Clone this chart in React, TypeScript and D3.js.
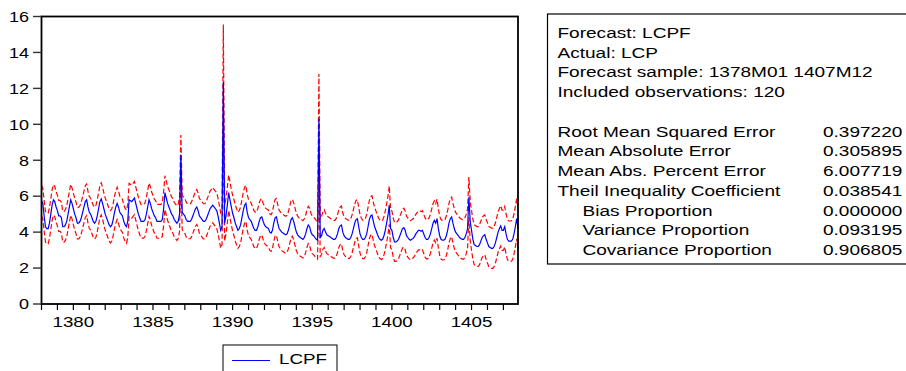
import React from "react";
import { scaleLinear, line } from "d3";

// LCPF forecast, monthly 1378M01..1407M12 (one row per year)
const lcpf = [
  5.75, 5.6, 4.9, 4.3, 4.2, 4.2, 4.5, 5.0, 5.5, 5.8, 5.7, 5.4,
  5.2, 4.9, 4.9, 4.8, 4.3, 4.3, 4.4, 4.6, 5.0, 5.4, 5.8, 5.6,
  5.3, 5.0, 4.8, 4.5, 4.5, 4.6, 4.8, 5.1, 5.4, 5.7, 5.8, 5.4,
  5.1, 5.0, 4.8, 4.6, 4.5, 4.6, 4.9, 5.3, 5.7, 5.85, 5.6, 5.3,
  5.0, 4.8, 4.6, 4.4, 4.3, 4.4, 4.7, 5.1, 5.4, 5.6, 5.4, 5.1,
  5.0, 4.9, 4.6, 4.4, 4.3, 4.6, 5.8, 5.75, 5.7, 5.8, 5.9, 5.6,
  5.3, 5.0, 4.8, 4.6, 4.6, 4.6, 4.7, 5.0, 5.4, 5.8, 5.6, 5.3,
  5.1, 4.9, 4.8, 4.6, 4.6, 4.6, 4.6, 4.7, 5.3, 6.2, 5.9, 5.6,
  5.4, 5.2, 5.0, 4.9, 4.7, 4.6, 4.5, 4.6, 5.0, 8.3, 5.1, 5.0,
  4.9, 4.7, 4.6, 4.6, 4.6, 4.7, 4.9, 5.1, 5.3, 5.4, 5.2, 4.9,
  4.8, 4.7, 4.6, 4.6, 4.7, 4.9, 5.1, 5.3, 5.4, 5.5, 5.4, 5.3,
  5.2, 4.9, 4.5, 4.1, 4.3, 12.35, 4.5, 4.9, 5.5, 6.2, 5.8, 5.4,
  5.05, 4.8, 4.5, 4.3, 4.1, 4.2, 4.4, 4.8, 5.2, 5.5, 5.6, 5.1,
  4.8, 4.7, 4.6, 4.4, 4.2, 4.1, 4.1, 4.3, 4.6, 4.8, 4.85, 4.6,
  4.4, 4.3, 4.25, 4.2, 4.0, 3.95, 4.1, 4.5, 4.8, 4.85, 4.5, 4.2,
  4.1, 4.0, 3.95, 3.9, 3.85, 3.9, 4.1, 4.4, 4.7, 4.8, 4.6, 4.3,
  4.0, 3.85, 3.75, 3.7, 3.65, 3.6, 3.7, 3.9, 4.2, 4.4, 4.3, 4.0,
  3.85, 3.8, 3.7, 3.6, 3.55, 10.3, 3.7, 3.8, 4.1, 4.2, 4.0, 3.85,
  3.8, 3.75, 3.7, 3.65, 3.6, 3.6, 3.7, 3.9, 4.2, 4.35, 4.4, 4.0,
  3.8, 3.7, 3.65, 3.6, 3.6, 3.7, 3.9, 4.2, 4.5, 4.7, 4.75, 4.3,
  3.9, 3.7, 3.6, 3.6, 3.7, 3.9, 4.3, 4.7, 4.9, 4.95, 4.6, 4.3,
  4.1, 3.9, 3.7, 3.6, 3.55, 3.6, 3.8, 4.1, 4.5, 4.9, 5.5, 4.2,
  4.1, 3.7, 3.45, 3.45, 3.5, 3.6, 3.8, 4.0, 4.2, 4.25, 4.1, 3.8,
  3.7, 3.6, 3.55, 3.6, 3.65, 3.75, 3.9, 4.0, 4.1, 4.1, 4.05, 4.1,
  3.9, 3.7, 3.6, 3.6, 3.7, 3.9, 4.2, 4.5, 4.65, 4.5, 4.75, 4.2,
  3.8, 3.6, 3.55, 3.55, 3.6, 3.8, 4.1, 4.5, 4.75, 4.85, 4.5, 4.2,
  4.0, 3.9, 3.8, 3.7, 3.65, 3.6, 3.6, 3.7, 3.9, 4.2, 5.95, 4.6,
  4.1, 3.6, 3.3, 3.25, 3.2, 3.2, 3.3, 3.5, 3.7, 3.8, 3.85, 3.6,
  3.4, 3.2, 3.15, 3.1, 3.1, 3.2, 3.4, 3.7, 4.0, 4.2, 4.35, 4.1,
  4.1, 4.3, 3.9, 3.6, 3.5, 3.5, 3.5, 3.6, 3.9, 4.3, 4.75, 4.2,
];

// half width of the +/- 2 S.E. band, per year
const bandWidth = [
  0.85, 0.86, 0.88, 0.89, 0.9, 0.92, 0.93, 0.94, 0.96, 0.97,
  0.98, 0.99, 1.0, 1.01, 1.02, 1.03, 1.04, 1.05, 1.05, 1.06,
  1.07, 1.07, 1.08, 1.09, 1.09, 1.1, 1.1, 1.11, 1.12, 1.12,
];

// months where the upper band spikes: [month index, upper value]
const bandSpikes: [number, number][] = [
  [105, 9.4],
  [137, 15.55],
  [209, 12.8],
  [322, 7.07],
];

const firstYear = 1378;
const xLabelYears = [1380, 1385, 1390, 1395, 1400, 1405];
const yTicks = [0, 2, 4, 6, 8, 10, 12, 14, 16];

const infoLines = [
  "Forecast: LCPF",
  "Actual: LCP",
  "Forecast sample: 1378M01 1407M12",
  "Included observations: 120",
];
const statNames = [
  "Root Mean Squared Error",
  "Mean Absolute Error",
  "Mean Abs. Percent Error",
  "Theil Inequality Coefficient",
  "Bias Proportion",
  "Variance Proportion",
  "Covariance Proportion",
];
const statValues = [
  "0.397220",
  "0.305895",
  "6.007719",
  "0.038541",
  "0.000000",
  "0.093195",
  "0.906805",
];

const W = 906;
const H = 371;
const plot = { left: 41.5, right: 518, top: 16.5, bottom: 304 };
const font = "'Liberation Sans', Arial, sans-serif";

const Txt = ({ x, y, anchor = "start", size = 15, sx = 1.25, children }: any) => (
  <text
    transform={`translate(${x},${y}) scale(${sx},1)`}
    textAnchor={anchor}
    fontFamily={font}
    fontSize={size}
    fill="#000"
  >
    {children}
  </text>
);

export default function App() {
  const n = lcpf.length;
  const x = scaleLinear().domain([0, n - 1]).range([plot.left, plot.right]);
  const y = scaleLinear().domain([0, 16]).range([plot.bottom, plot.top]);

  const spikeMap = new Map(bandSpikes);
  const upper = lcpf.map((f, i) =>
    spikeMap.has(i) ? (spikeMap.get(i) as number) : f + bandWidth[Math.floor(i / 12)]
  );
  const lower = lcpf.map((f, i) => f - (upper[i] - f));

  const path = line<number>()
    .x((_, i) => x(i))
    .y((d) => y(d));

  const yearTicks = Array.from({ length: 30 }, (_, k) => k * 12);
  const lineGap = 19.75;
  const top = 37.8;

  return (
    <svg
      width={W}
      height={H}
      style={{ position: "absolute", left: 0, top: 0, background: "#fff" }}
    >
      <rect x={0} y={0} width={W} height={H} fill="#fff" />

      {/* series */}
      <path d={path(upper) || ""} fill="none" stroke="#ff0000" strokeWidth={1.2} strokeDasharray="5,2.5" />
      <path d={path(lower) || ""} fill="none" stroke="#ff0000" strokeWidth={1.2} strokeDasharray="5,2.5" />
      <path d={path(lcpf) || ""} fill="none" stroke="#0000ff" strokeWidth={1.2} />

      {/* frame */}
      <rect
        x={plot.left}
        y={plot.top}
        width={plot.right - plot.left}
        height={plot.bottom - plot.top}
        fill="none"
        stroke="#000"
        strokeWidth={1.8}
      />

      {/* y axis */}
      {yTicks.map((t) => (
        <g key={t}>
          <line x1={33} x2={plot.left} y1={y(t)} y2={y(t)} stroke="#333" strokeWidth={1.4} />
          <Txt x={29} y={y(t) + 5.3} anchor="end" sx={1.2}>
            {t}
          </Txt>
        </g>
      ))}

      {/* x axis */}
      {yearTicks.map((m) => (
        <line key={m} x1={x(m)} x2={x(m)} y1={plot.bottom} y2={plot.bottom + 6} stroke="#000" strokeWidth={1.2} />
      ))}
      {xLabelYears.map((yr) => (
        <Txt key={yr} x={x((yr - firstYear) * 12)} y={327} anchor="middle">
          {yr}
        </Txt>
      ))}

      {/* legend */}
      <rect x={223} y={345} width={114} height={40} fill="#fff" stroke="#000" strokeWidth={1} />
      <line x1={232} x2={270} y1={360.5} y2={360.5} stroke="#0000ff" strokeWidth={1.1} />
      <Txt x={279} y={364}>LCPF</Txt>

      {/* statistics box */}
      <rect x={547.5} y={14} width={400} height={250} fill="#fff" stroke="#000" strokeWidth={1.2} />
      {infoLines.map((s, i) => (
        <Txt key={s} x={557.5} y={top + i * lineGap} sx={1.27}>
          {s}
        </Txt>
      ))}
      {statNames.map((s, i) => (
        <g key={s}>
          <Txt x={i >= 4 ? 582.5 : 557.5} y={top + (i + 5) * lineGap} sx={1.27}>
            {s}
          </Txt>
          <Txt x={823} y={top + (i + 5) * lineGap} sx={1.27}>
            {statValues[i]}
          </Txt>
        </g>
      ))}
    </svg>
  );
}
